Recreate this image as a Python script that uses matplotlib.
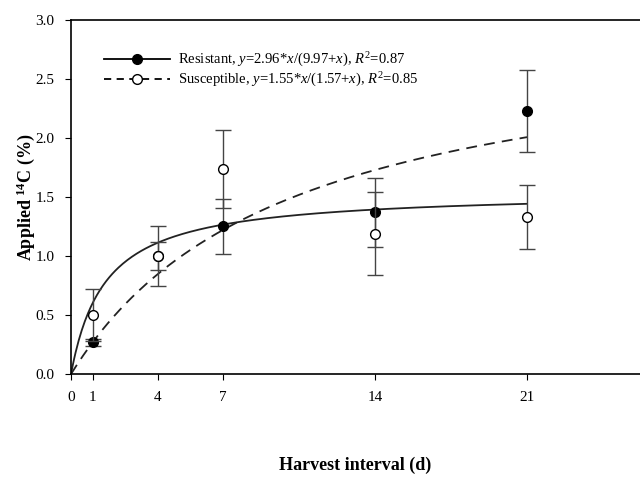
import numpy as np
import matplotlib.pyplot as plt

plt.rcParams["font.family"] = "Liberation Serif"
plt.rcParams["mathtext.fontset"] = "custom"
plt.rcParams["mathtext.rm"] = "Liberation Serif"
plt.rcParams["mathtext.it"] = "Liberation Serif:italic"
plt.rcParams["mathtext.bf"] = "Liberation Serif:bold"

# Harvest interval (d)
days = [1, 4, 7, 14, 21]

# Applied 14C (%) – mean and error
res_mean = [0.27, 1.00, 1.25, 1.37, 2.23]
res_err = [0.03, 0.115, 0.23, 0.29, 0.35]
sus_mean = [0.50, 1.00, 1.74, 1.19, 1.33]
sus_err = [0.22, 0.25, 0.33, 0.35, 0.27]

# fitted curve parameters (a, b) for y = a*x/(b+x), as drawn
solid_fit = (1.55, 1.57)
dashed_fit = (2.96, 9.97)

res_label = r"Resistant, $y$=2.96*$x$/(9.97+$x$), $R^2$=0.87"
sus_label = r"Susceptible, $y$=1.55*$x$/(1.57+$x$), $R^2$=0.85"

fig = plt.figure(figsize=(6.4, 4.87), dpi=100)
ax = fig.add_axes([0.111, 0.232, 0.889, 0.727])

xs = np.linspace(0, 21, 300)
ax.plot(xs, solid_fit[0] * xs / (solid_fit[1] + xs), color="#222222", lw=1.3, zorder=2)
ax.plot(xs, dashed_fit[0] * xs / (dashed_fit[1] + xs), color="#222222", lw=1.3,
        ls=(0, (6, 4)), zorder=2)

ax.errorbar(days, res_mean, yerr=res_err, fmt="o", color="#444444", mfc="black",
            mec="black", ms=7, capsize=6, elinewidth=1, capthick=1, zorder=3)
ax.errorbar(days, sus_mean, yerr=sus_err, fmt="o", color="#444444", mfc="white",
            mec="black", ms=7, capsize=6, elinewidth=1, capthick=1, zorder=4)

# legend handles
h1, = ax.plot([], [], color="black", lw=1.3, marker="o", mfc="black", mec="black", ms=7)
h2, = ax.plot([], [], color="black", lw=1.3, ls=(0, (4, 3)), marker="o",
              mfc="white", mec="black", ms=7)
ax.legend([h1, h2], [res_label, sus_label], loc="upper left",
          bbox_to_anchor=(0.035, 0.95), frameon=False, fontsize=10.5,
          handlelength=4.5, handletextpad=0.6, labelspacing=0.15)

ax.set_xlim(0, 26.2)
ax.set_ylim(0, 3.0)
ax.set_xticks([0, 1, 4, 7, 14, 21])
ax.set_yticks(np.arange(0, 3.01, 0.5))
ax.yaxis.set_major_formatter(plt.FormatStrFormatter("%.1f"))
ax.tick_params(direction="out", labelsize=11, length=4, pad=8)
ax.spines["right"].set_visible(False)
for s in ax.spines.values():
    s.set_linewidth(1.2)

ax.set_xlabel("Harvest interval (d)", fontsize=13, fontweight="bold", labelpad=38)
ax.set_ylabel(r"Applied $^{\mathbf{14}}$C (%)", fontsize=13, fontweight="bold", labelpad=-1)

fig.savefig("out.png", dpi=100)
